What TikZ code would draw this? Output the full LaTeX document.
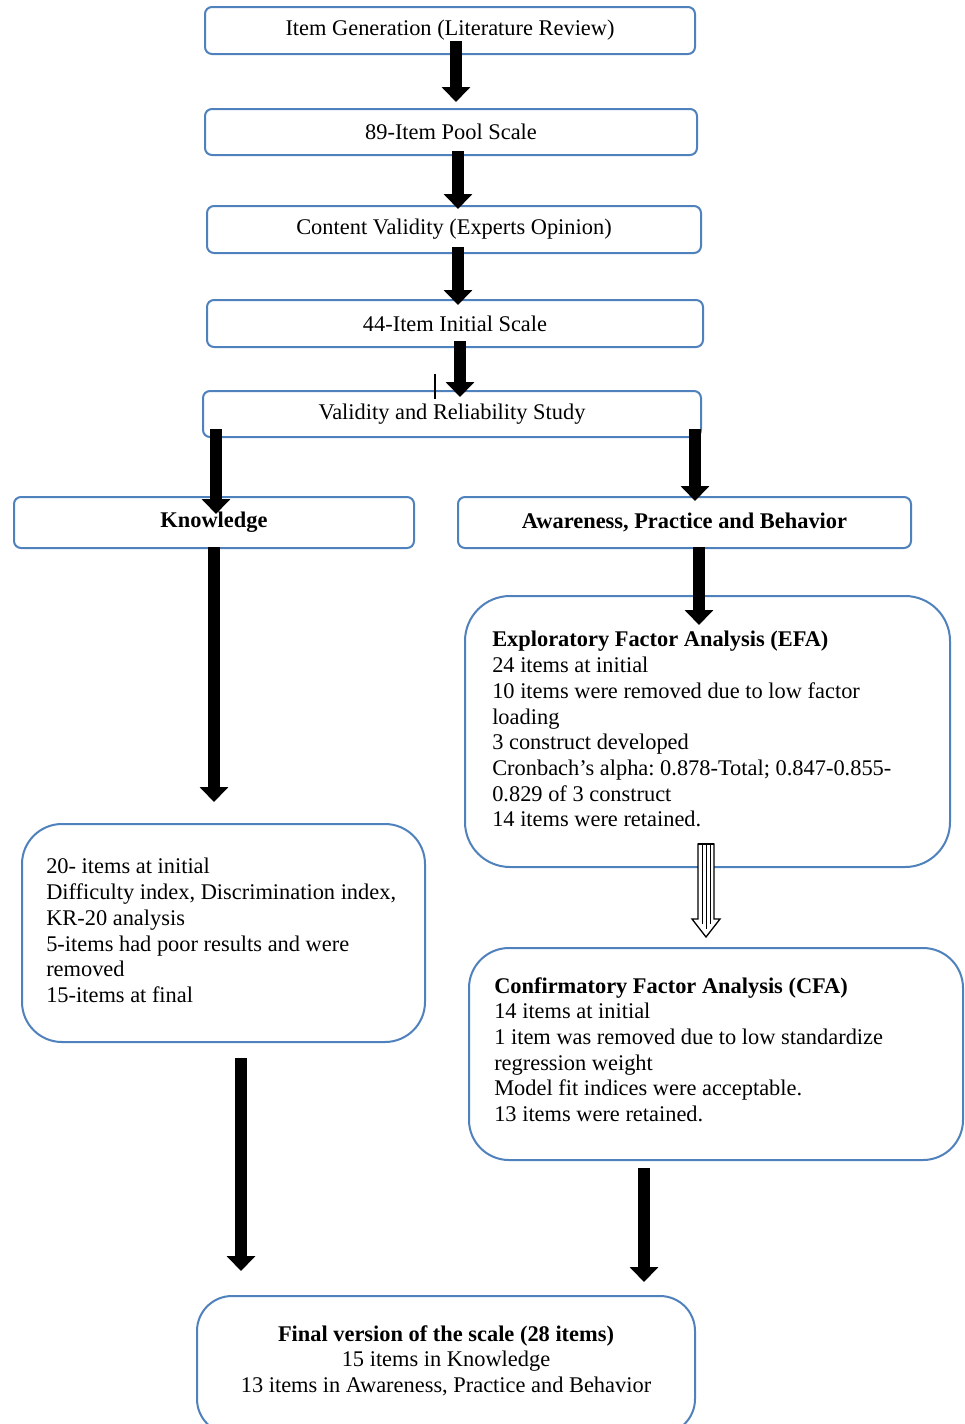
\documentclass[tikz,border=0pt]{standalone}
\usepackage{fontspec}
\setmainfont{Liberation Serif}
\usetikzlibrary{arrows.meta,calc}
\newlength\px \setlength\px{0.75pt}
\definecolor{boxblue}{RGB}{79,129,189}
\frenchspacing
\begin{document}
\begin{tikzpicture}[x=0.75pt,y=-0.75pt,
  box/.style={draw=boxblue,line width=2\px,rounded corners=7\px,inner sep=0pt,fill=white,
    font=\fontsize{16.8}{19.3}\selectfont},
  rbox/.style={draw=boxblue,line width=2\px,inner sep=0pt,fill=white},
  txt/.style={inner sep=0pt,align=left,font=\fontsize{16.8}{19.3}\selectfont},
  bigarr/.style={line width=9pt,-{Triangle[width=21pt,length=11.25pt]}},
]
\useasboundingbox[fill=white] (0,0) rectangle (964,1424);

% boxes
\node[box,minimum width=490\px,minimum height=47\px] (b1) at (450,30.5) {Item Generation (Literature Review)};
\node[box,minimum width=492\px,minimum height=46\px] (b2) at (451,132) {89-Item Pool Scale};
\node[box,minimum width=494\px,minimum height=47\px] (b3) at (454,229.5) {Content Validity (Experts Opinion)};
\node[box,minimum width=496\px,minimum height=47\px] (b4) at (455,323.5) {44-Item Initial Scale};
\node[box,minimum width=498\px,minimum height=46\px] (b5) at (452,414) {Validity and Reliability Study};
\node[box,minimum width=400\px,minimum height=51\px] (b6) at (214,522.5) {\textbf{Knowledge}};
\node[box,minimum width=453\px,minimum height=51\px] (b7) at (684.5,522.5) {\textbf{Awareness, Practice and Behavior}};
\node[rbox,rounded corners=45\px,minimum width=485\px,minimum height=271\px] (b8) at (707.5,731.5) {};
\node[rbox,rounded corners=40\px,minimum width=403\px,minimum height=218\px] (b9) at (223.5,933) {};
\node[rbox,rounded corners=40\px,minimum width=494\px,minimum height=212\px] (b10) at (716,1054) {};
\node[rbox,rounded corners=35\px,minimum width=498\px,minimum height=138\px] (b11) at (446,1365) {};

% texts inside large boxes
\node[txt,anchor=north west] (t8) at ($(b8.north west)+(28,36)$) {\textbf{Exploratory Factor Analysis (EFA)}\\
24 items at initial\\
10 items were removed due to low factor\\
loading\\
3 construct developed\\
Cronbach’s alpha: 0.878-Total; 0.847-0.855-\\
0.829 of 3 construct\\
14 items were retained.};
\node[txt,anchor=north west] (t9) at ($(b9.north west)+(25,35)$) {20- items at initial\\
Difficulty index, Discrimination index,\\
KR-20 analysis\\
5-items had poor results and were\\
removed\\
15-items at final};
\node[txt,anchor=north west] (t10) at ($(b10.north west)+(26,30)$) {\textbf{Confirmatory Factor Analysis (CFA)}\\
14 items at initial\\
1 item was removed due to low standardize\\
regression weight\\
Model fit indices were acceptable.\\
13 items were retained.};
\node[txt,align=center,anchor=north] (t11) at ($(b11.north)+(0,30)$) {\textbf{Final version of the scale (28 items)}\\
15 items in Knowledge\\
13 items in Awareness, Practice and Behavior};

% arrows
\draw[bigarr] ($(b1.south)+(6,-14)$) -- ($(b2.north)+(5,-6)$);
\draw[bigarr] ($(b2.south)+(7,-5)$) -- ($(b3.north)+(4,4)$);
\draw[bigarr] ($(b3.south)+(4,-7)$) -- ($(b4.north)+(3,6)$);
\draw[bigarr] ($(b4.south)+(5,-7)$) -- ($(b5.north)+(8,7)$);
\draw[bigarr] ($(b5.south)+(-236,-9)$) -- ($(b6.north)+(2,18)$);
\draw[bigarr] ($(b5.south)+(243,-9)$) -- ($(b7.north)+(10.5,5)$);
\draw[bigarr] ($(b7.south)+(14.5,-2)$) -- ($(b8.north)+(-8.5,30)$);
\draw[bigarr] ($(b6.south)+(0,-2)$) -- ($(b9.north)+(-9.5,-21)$);
\draw[bigarr] ($(b9.south)+(17.5,15)$) -- ($(b11.north)+(-205,-24)$);
\draw[bigarr] ($(b10.south)+(-72,7)$) -- ($(b11.north)+(198,-13)$);

% small tick
\coordinate (tk) at ($(b5.north)+(-17,-16)$);
\draw[line width=1.2\px] (tk) -- ++(0,25);

% striped hollow arrow
\coordinate (h1) at ($(b8.south)+(-1.5,-24)$);
\coordinate (h2) at ($(b10.north)+(-10,-10)$);
\draw[line width=1.3\px,fill=white,line join=miter]
  ($(h1)+(-8,0)$) -- ($(h2)+(-8,-18)$) -- ($(h2)+(-14,-18)$) -- (h2)
  -- ($(h2)+(14,-18)$) -- ($(h2)+(8,-18)$) -- ($(h1)+(8,0)$) -- cycle;
\foreach \dx/\dy in {-4/-13,0/-8,4/-13}
  \draw[line width=1\px] ($(h1)+(\dx,0)$) -- ($(h2)+(\dx,\dy)$);
\draw[line width=2\px] ($(h1)+(-8,0)$) -- ($(h1)+(8,0)$);
\end{tikzpicture}
\end{document}
